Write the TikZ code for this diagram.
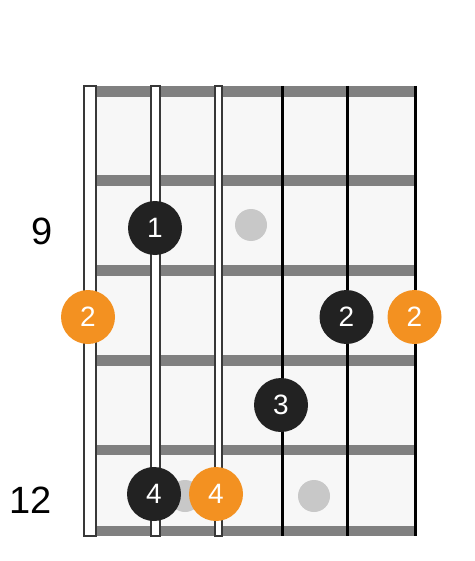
\documentclass[tikz,border=0pt]{standalone}
\usepackage{fontspec}
\setmainfont{Liberation Sans}
\usepackage{tikz}
\usetikzlibrary{positioning,calc}

\definecolor{boardgrey}{HTML}{F7F7F7}
\definecolor{fretgrey}{HTML}{808080}
\definecolor{dotgrey}{HTML}{C8C8C8}
\definecolor{fingerblack}{HTML}{222222}
\definecolor{rootorange}{HTML}{F39121}

\tikzset{
  finger/.style={circle,fill=fingerblack,text=white,minimum size=54pt,inner sep=0pt,
    font=\fontsize{28}{28}\selectfont},
  root/.style={finger,fill=rootorange},
  inlay/.style={circle,fill=dotgrey,minimum size=32pt,inner sep=0pt},
  fretlabel/.style={font=\fontsize{38}{38}\selectfont}
}

\begin{document}
\begin{tikzpicture}[x=1pt,y=-1pt]
\useasboundingbox (0,0) rectangle (474,561);

% Board
\fill[boardgrey] (90,86) rectangle (415,536);

% Frets
\foreach \ytop/\ybot in {86/97,175/186,265/276,355/366,445/455,526/536}
  \fill[fretgrey] (90,\ytop) rectangle (415,\ybot);

% Inlays
\node[inlay] (dotnine) at (251,225) {};
\node[inlay] (dottwelvea) at (185,496) {};
\node[inlay] (dottwelveb) at (314,496) {};

% Wound strings
\foreach \x/\w in {90/12,155/9,218.5/7}
  \draw[line width=2pt,draw=fingerblack!90,fill=white] (\x-\w/2,86) rectangle (\x+\w/2,536);

% Plain strings
\foreach \x in {282,347,415}
  \draw[line width=3pt,black] (\x,86) -- (\x,536);

% Fret numbers
\node[fretlabel] (fretnine) at (42,231) {9};
\node[fretlabel] (frettwelve) at (31,500) {12};

% Fingers
\node[finger] (fone) at (155,228) {1};
\node[root] (rootlow) at (88,317) {2};
\node[finger] (ftwo) at (346.5,317) {2};
\node[root] (roothigh) at (414.5,317) {2};
\node[finger] (fthree) at (281,405) {3};
\node[finger] (ffour) at (154,494) {4};
\node[root] (rootmid) at (216,494) {4};
\end{tikzpicture}
\end{document}
